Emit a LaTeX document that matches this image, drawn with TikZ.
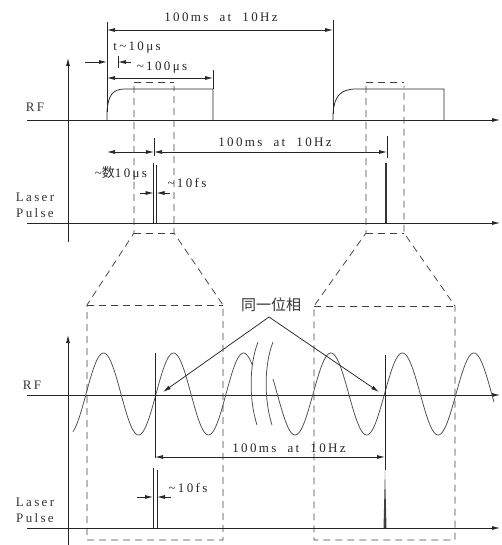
\documentclass[tikz,border=0pt]{standalone}
\usepackage{fontspec}
\setmainfont{Liberation Serif}
\newfontfamily\lbl[LetterSpace=18]{Liberation Serif}
\newfontfamily\cjk{Noto Sans CJK SC}
\usetikzlibrary{arrows.meta}
\begin{document}
\begin{tikzpicture}[x=1pt,y=-1pt,
  ln/.style={line width=0.75pt,black!85},
  dsh/.style={line width=0.75pt,black!75,dash pattern=on 7pt off 5pt},
  tip/.tip={Latex[length=8pt,width=4pt]},
  arr/.style={ln,-tip},
  dim/.style={ln,tip-tip},
  wave/.style={line width=0.75pt,black!70},
  lab/.style={font=\lbl\fontsize{13}{13}\selectfont,inner sep=0pt,text=black!85},
  side/.style={font=\lbl\fontsize{13}{13}\selectfont,inner sep=0pt,text=black!80},
  pulse/.style={line width=0.75pt,black!85}]
\useasboundingbox (0,0) rectangle (501,545);

% ---------- top panel ----------
\coordinate (ax1b) at (68,242); \coordinate (ax1t) at (68,58);
\draw[arr] (ax1b) -- (ax1t);
\coordinate (rf1L) at (27,120); \coordinate (rf1R) at (500,120);
\draw[arr] (rf1L) -- (rf1R);
\coordinate (ls1L) at (27,223); \coordinate (ls1R) at (500,223);
\draw[arr] (ls1L) -- (ls1R);
\node[side] (rfA) at (35,107) {RF};
\node[side] (laA) at (35,197) {Laser};
\node[side] (puA) at (35,213) {Pulse};

% RF pulses
\draw[ln] (107,120) -- (107,112) .. controls (108,96) and (112,89) .. (125,89) -- (213,89) -- (213,120);
\draw[ln] (333,120) -- (333,114) .. controls (334,97) and (340,89) .. (356,89) -- (444,89) -- (444,120);

% extension lines
\coordinate (e1t) at (107,22); \coordinate (e1b) at (107,112);
\draw[ln] (e1t) -- (e1b);
\coordinate (e2t) at (333,20); \coordinate (e2b) at (333,114);
\draw[ln] (e2t) -- (e2b);
\coordinate (e3t) at (213,70); \coordinate (e3b) at (213,89);
\draw[ln] (e3t) -- (e3b);
\coordinate (e4t) at (118,56); \coordinate (e4b) at (118,68);
\draw[ln] (e4t) -- (e4b);

% 100ms at 10Hz (top)
\coordinate (d1a) at (107,30); \coordinate (d1b) at (333,30);
\draw[dim] (d1a) -- (d1b);
\node[lab] (l1) at (221,17) {100ms\ \ at\ \ 10Hz};

% t~10us
\coordinate (t1s) at (85,62); \coordinate (t1e) at (107,62);
\draw[arr] (t1s) -- (t1e);
\coordinate (t2s) at (131,62); \coordinate (t2e) at (118,62);
\draw[arr] (t2s) -- (t2e);
\node[lab] (l2) at (137,48) {t\textasciitilde10μs};

% ~100us
\coordinate (h1a) at (107,78); \coordinate (h1b) at (213,78);
\draw[dim] (h1a) -- (h1b);
\node[lab] (l3) at (162,68) {\textasciitilde100μs};

% laser pulses (top)
\draw[pulse] (153.5,163) -- (153.5,223);
\draw[pulse] (156.5,165) -- (156.5,223);
\draw[line width=1.2pt,black!80] (386,163) -- (386,223);

% ~数10us and 100ms
\coordinate (k1t) at (154,138); \coordinate (k1b) at (154,156);
\draw[ln] (k1t) -- (k1b);
\coordinate (k2t) at (387,136); \coordinate (k2b) at (387,158);
\draw[ln] (k2t) -- (k2b);
\coordinate (g1a) at (107,152); \coordinate (g1b) at (154,152); \coordinate (g1c) at (387,152);
\draw[dim] (g1a) -- (g1b);
\draw[dim] (g1b) -- (g1c);
\node[lab] (l4) at (121,173) {\textasciitilde{\cjk 数}10μs};
\node[lab] (l5) at (275,142) {100ms\ \ at\ \ 10Hz};

% ~10fs (top)
\coordinate (f1s) at (140,193); \coordinate (f1e) at (153.5,193);
\coordinate (f2s) at (170,193); \coordinate (f2e) at (156.5,193);
\draw[arr] (f1s) -- (f1e);
\draw[arr] (f2s) -- (f2e);
\node[lab] (l6) at (187,183) {\textasciitilde10fs};

% dashed zoom frames
\draw[dsh] (134,82) -- (174,82);
\draw[dsh] (134,86) -- (134,233) -- (87,305) -- (87,540) -- (223,540) -- (223,305) -- (174,233) -- (174,86);
\draw[dsh] (134,233) -- (174,233);
\draw[dsh] (87,305) -- (223,305);
\draw[dsh] (366,82) -- (404,82);
\draw[dsh] (366,86) -- (366,233) -- (314,306) -- (314,540) -- (455,540) -- (455,306) -- (404,233) -- (404,86);
\draw[dsh] (366,233) -- (404,233);
\draw[dsh] (314,306) -- (455,306);

% ---------- bottom panel ----------
\coordinate (ax2b) at (68,545); \coordinate (ax2t) at (68,335);
\draw[arr] (ax2b) -- (ax2t);
\coordinate (rf2L) at (27,395); \coordinate (rf2R) at (500,395);
\draw[arr] (rf2L) -- (rf2R);
\coordinate (ls2L) at (27,528); \coordinate (ls2R) at (500,528);
\draw[arr] (ls2L) -- (ls2R);
\node[side] (rfB) at (32,385) {RF};
\node[side] (laB) at (35,502) {Laser};
\node[side] (puB) at (35,518) {Pulse};

% RF waves
\draw[wave] plot[domain=73:252,samples=160,smooth] (\x,{394-41*sin(((\x-86)/70)*360)});
\draw[wave] plot[domain=273:494,samples=180,smooth] (\x,{394-41*sin(((\x-313)/71.5)*360)});
% break marks
\draw[wave] (258,342) .. controls (249,365) and (249,400) .. (257,425);
\draw[wave] (273,342) .. controls (264,365) and (264,400) .. (272,425);

% phase label and arrows
\node[font=\cjk\fontsize{15}{15}\selectfont,inner sep=0pt,text=black!80] (ph) at (271,305) {同一位相};
\coordinate (phA) at (269,317);
\coordinate (pt1) at (163,392); \coordinate (pt2) at (379,392);
\draw[arr] (phA) -- (pt1);
\draw[arr] (phA) -- (pt2);

% verticals and 100ms dimension
\coordinate (v1t) at (155,353); \coordinate (v1b) at (155,458);
\draw[ln] (v1t) -- (v1b);
\coordinate (v2t) at (385,355); \coordinate (v2b) at (385,470);
\draw[ln] (v2t) -- (v2b);
\coordinate (b1a) at (155,457); \coordinate (b1b) at (385,457);
\draw[dim] (b1a) -- (b1b);
\node[lab] (l7) at (289,448) {100ms\ \ at\ \ 10Hz};

% laser pulses (bottom)
\draw[pulse] (153,468) -- (153,528);
\draw[pulse] (157,470) -- (157,528);
\fill[black!75] (383.5,528) -- (385,470) -- (386.5,528) -- cycle;

% ~10fs (bottom)
\coordinate (f3s) at (137,497); \coordinate (f3e) at (153,497);
\coordinate (f4s) at (171,497); \coordinate (f4e) at (157,497);
\draw[arr] (f3s) -- (f3e);
\draw[arr] (f4s) -- (f4e);
\node[lab] (l8) at (188,488) {\textasciitilde10fs};
\end{tikzpicture}
\end{document}
